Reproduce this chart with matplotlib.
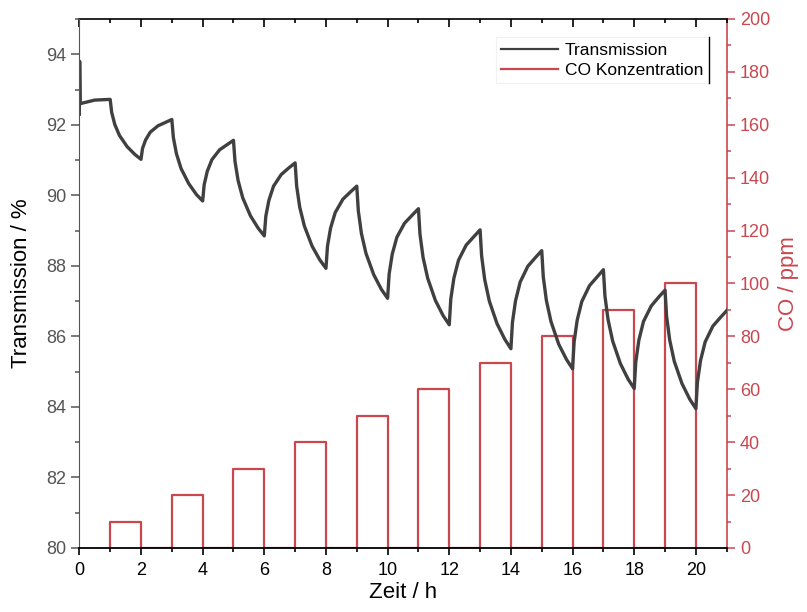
import matplotlib
matplotlib.use("Agg")
import matplotlib.pyplot as plt
from matplotlib.ticker import MultipleLocator
from matplotlib.lines import Line2D

plt.rcParams['font.family'] = ['Liberation Sans', 'DejaVu Sans']

# Transmission
zeit = [0.0, 0.01, 0.03, 0.5, 1.0,
        1.05, 1.15, 1.3, 1.55, 1.8, 2.0,
        2.05, 2.15, 2.3, 2.55, 2.8, 3.0,
        3.05, 3.15, 3.3, 3.55, 3.8, 4.0,
        4.05, 4.15, 4.3, 4.55, 4.8, 5.0,
        5.05, 5.15, 5.3, 5.55, 5.8, 6.0,
        6.05, 6.15, 6.3, 6.55, 6.8, 7.0,
        7.05, 7.15, 7.3, 7.55, 7.8, 8.0,
        8.05, 8.15, 8.3, 8.55, 8.8, 9.0,
        9.05, 9.15, 9.3, 9.55, 9.8, 10.0,
        10.05, 10.15, 10.3, 10.55, 10.8, 11.0,
        11.05, 11.15, 11.3, 11.55, 11.8, 12.0,
        12.05, 12.15, 12.3, 12.55, 12.8, 13.0,
        13.05, 13.15, 13.3, 13.55, 13.8, 14.0,
        14.05, 14.15, 14.3, 14.55, 14.8, 15.0,
        15.05, 15.15, 15.3, 15.55, 15.8, 16.0,
        16.05, 16.15, 16.3, 16.55, 16.8, 17.0,
        17.05, 17.15, 17.3, 17.55, 17.8, 18.0,
        18.05, 18.15, 18.3, 18.55, 18.8, 19.0,
        19.05, 19.15, 19.3, 19.55, 19.8, 20.0,
        20.05, 20.15, 20.3, 20.55, 20.8, 21.0]
transmission = [92.3, 93.8, 92.6, 92.7, 92.72,
                92.35, 92.01, 91.70, 91.38, 91.16, 91.02,
                91.33, 91.57, 91.79, 91.97, 92.07, 92.15,
                91.64, 91.18, 90.76, 90.33, 90.02, 89.84,
                90.30, 90.68, 91.01, 91.29, 91.44, 91.56,
                90.96, 90.42, 89.93, 89.42, 89.07, 88.85,
                89.41, 89.86, 90.26, 90.59, 90.78, 90.92,
                90.26, 89.66, 89.13, 88.56, 88.17, 87.93,
                88.56, 89.07, 89.51, 89.89, 90.10, 90.26,
                89.56, 88.92, 88.35, 87.75, 87.33, 87.08,
                87.77, 88.33, 88.81, 89.21, 89.44, 89.62,
                88.90, 88.24, 87.65, 87.02, 86.59, 86.33,
                87.06, 87.65, 88.16, 88.59, 88.83, 89.02,
                88.28, 87.61, 87.00, 86.36, 85.92, 85.65,
                86.40, 87.01, 87.54, 87.99, 88.24, 88.43,
                87.69, 87.02, 86.42, 85.78, 85.35, 85.08,
                85.84, 86.46, 86.99, 87.44, 87.69, 87.89,
                87.15, 86.48, 85.87, 85.23, 84.79, 84.52,
                85.27, 85.89, 86.42, 86.86, 87.12, 87.31,
                86.57, 85.90, 85.29, 84.66, 84.22, 83.95,
                84.70, 85.31, 85.84, 86.29, 86.54, 86.73]

# CO-Pulse
puls_start = [1, 3, 5, 7, 9, 11, 13, 15, 17, 19]
puls_dauer = 1
co_ppm = [10, 20, 30, 40, 50, 60, 70, 80, 90, 100]

grau = '#404040'
rot = '#c9474f'

fig = plt.figure(figsize=(8.07, 6.12), dpi=100)
ax = fig.add_axes([0.0983, 0.1046, 0.8022, 0.8644])
ax2 = ax.twinx()

# CO als Rechtecke
co_x, co_y = [], []
for s, c in zip(puls_start, co_ppm):
    co_x += [s, s, s + puls_dauer, s + puls_dauer]
    co_y += [0, c, c, 0]
ax2.plot(co_x, co_y, color=rot, lw=1.6)

ax.plot(zeit, transmission, color=grau, lw=2.4)
ax.set_zorder(ax2.get_zorder() + 1)
ax.patch.set_visible(False)

ax.set_xlim(0, 21)
ax.set_ylim(80, 95)
ax2.set_ylim(0, 200)

ax.xaxis.set_major_locator(MultipleLocator(2))
ax.xaxis.set_minor_locator(MultipleLocator(1))
ax.yaxis.set_major_locator(MultipleLocator(2))
ax.yaxis.set_minor_locator(MultipleLocator(1))
ax2.yaxis.set_major_locator(MultipleLocator(20))
ax2.yaxis.set_minor_locator(MultipleLocator(10))

ax.set_yticks([80, 82, 84, 86, 88, 90, 92, 94])

ax.tick_params(axis='x', which='major', direction='out', length=5, width=1.2,
               labelsize=13, colors='black', top=False, pad=5)
ax.tick_params(axis='x', which='minor', direction='out', length=3, width=1.2, top=False)
ax.tick_params(axis='y', which='major', direction='out', length=6, width=1.1,
               labelsize=13, colors='#555555')
ax.tick_params(axis='y', which='minor', direction='out', length=3, width=1.1, colors='#555555')
ax2.tick_params(axis='y', which='major', direction='out', length=6, width=1.1,
                labelsize=13, colors=rot)
ax2.tick_params(axis='y', which='minor', direction='out', length=3, width=1.1, colors=rot)

# Ticks oben nach innen
sec = ax.secondary_xaxis('top')
sec.xaxis.set_major_locator(MultipleLocator(2))
sec.xaxis.set_minor_locator(MultipleLocator(1))
sec.tick_params(axis='x', which='major', direction='in', length=6, width=1.2, labeltop=False)
sec.tick_params(axis='x', which='minor', direction='in', length=3, width=1.2)
sec.spines['top'].set_color('black')
sec.spines['top'].set_linewidth(1.2)

ax.spines['left'].set_color('#555555')
ax.spines['bottom'].set_color('black')
ax.spines['bottom'].set_linewidth(1.3)
ax.spines['top'].set_visible(False)
ax.spines['right'].set_visible(False)
ax2.spines['right'].set_color(rot)
ax2.spines['right'].set_linewidth(1.2)
ax2.spines['left'].set_visible(False)
ax2.spines['top'].set_visible(False)
ax2.spines['bottom'].set_visible(False)

ax.set_xlabel("Zeit / h", fontsize=16, labelpad=2)
ax.set_ylabel("Transmission / %", fontsize=16, labelpad=10)
ax2.set_ylabel("CO / ppm", fontsize=16, color=rot, labelpad=6)

handles = [Line2D([], [], color=grau, lw=1.6), Line2D([], [], color=rot, lw=1.6)]
leg = ax.legend(handles, ["Transmission", "CO Konzentration"], loc='upper right',
                bbox_to_anchor=(0.972, 0.965), fontsize=12.5, frameon=True, fancybox=False,
                handlelength=3.3, borderpad=0.3, labelspacing=0.3, handletextpad=0.4,
                borderaxespad=0)
leg.get_frame().set_edgecolor('#eeeeee')
leg.get_frame().set_linewidth(0.8)

fig.canvas.draw()
bb = leg.get_window_extent().transformed(fig.transFigure.inverted())
fig.add_artist(Line2D([bb.x1, bb.x1], [bb.y0, bb.y1], transform=fig.transFigure,
                      color='black', lw=1.0))

fig.savefig("out.png", dpi=100)
